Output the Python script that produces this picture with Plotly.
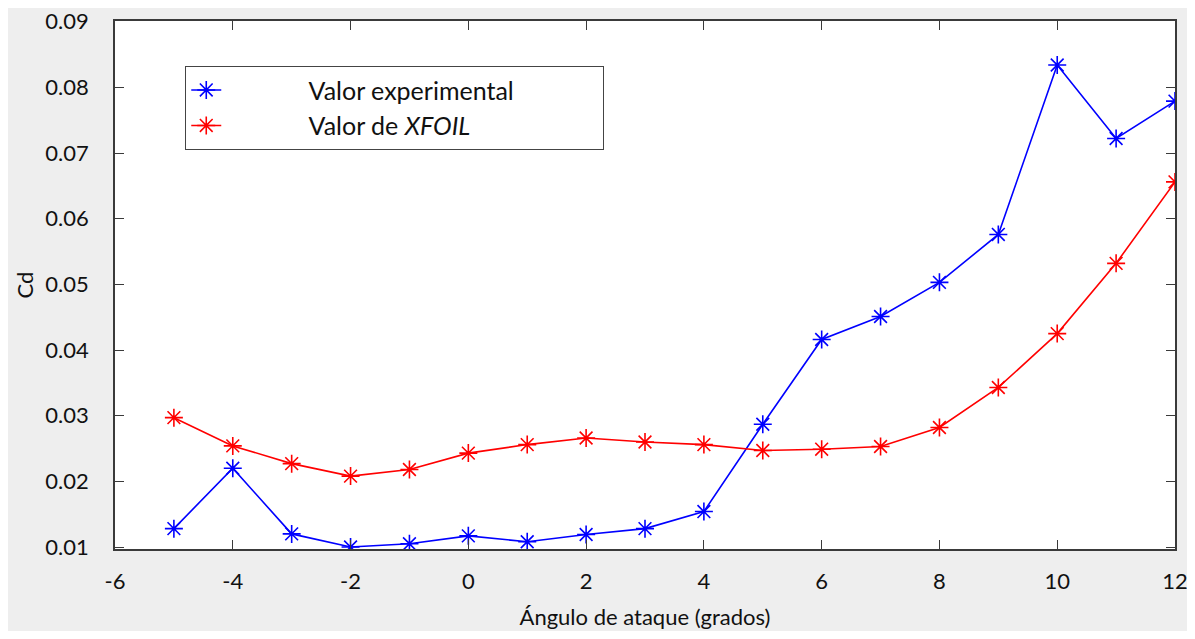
import plotly.graph_objects as go

angles = [-5, -4, -3, -2, -1, 0, 1, 2, 3, 4, 5, 6, 7, 8, 9, 10, 11, 12]
cd_experimental = [0.0128, 0.0220, 0.0120, 0.0100, 0.0105, 0.0117, 0.0108, 0.0119, 0.0128,
                   0.0154, 0.0287, 0.0416, 0.0451, 0.0503, 0.0576, 0.0834, 0.0722, 0.0779]
cd_xfoil = [0.0297, 0.0254, 0.0227, 0.0208, 0.0218, 0.0243, 0.0256, 0.0266, 0.0260,
            0.0256, 0.0247, 0.0249, 0.0253, 0.0282, 0.0343, 0.0425, 0.0532, 0.0656]
x_ticks = [-6, -4, -2, 0, 2, 4, 6, 8, 10, 12]
x_ticktext = ["-6", "-4", "-2", "0", "2", "4", "6", "8", "10", "12"]
y_ticks = [0.01, 0.02, 0.03, 0.04, 0.05, 0.06, 0.07, 0.08, 0.09]
y_ticktext = ["0.01", "0.02", "0.03", "0.04", "0.05", "0.06", "0.07", "0.08", "0.09"]

FONT = "Lato, 'Open Sans', sans-serif"
NB = "\u00a0"

fig = go.Figure()
fig.add_trace(go.Scatter(
    x=angles, y=cd_experimental, mode="lines+markers",
    name=NB * 13 + "Valor experimental" + NB * 13,
    line=dict(color="#0000ff", width=1.6),
    marker=dict(symbol="asterisk-open", size=15, color="#0000ff",
                line=dict(color="#0000ff", width=1.6)),
))
fig.add_trace(go.Scatter(
    x=angles, y=cd_xfoil, mode="lines+markers",
    name=NB * 13 + "Valor de <i>XFOIL</i>",
    line=dict(color="#ff0000", width=1.6),
    marker=dict(symbol="asterisk-open", size=15, color="#ff0000",
                line=dict(color="#ff0000", width=1.6)),
))

axis_common = dict(
    showgrid=False, zeroline=False, showline=True, linecolor="#3a3a3a", linewidth=1.5,
    mirror="ticks", ticks="inside", ticklen=9, tickwidth=1.3, tickcolor="#3a3a3a",
    tickfont=dict(family=FONT, size=22, color="#111111"),
    ticklabeloverflow="allow", automargin=False,
)

fig.update_layout(
    width=1187, height=623,
    margin=dict(l=107, r=20, t=13, b=82),
    paper_bgcolor="#eeeeee", plot_bgcolor="#ffffff",
    font=dict(family=FONT, size=22, color="#111111"),
    xaxis=dict(range=[-6, 12], tickvals=x_ticks, ticktext=x_ticktext, ticklabelstandoff=12,
               title=dict(text="Ángulo de ataque (grados)", standoff=16,
                          font=dict(family=FONT, size=22)),
               **axis_common),
    yaxis=dict(range=[0.0097, 0.0901], tickvals=y_ticks, ticktext=y_ticktext,
               ticklabelstandoff=20,
               title=dict(text="Cd", standoff=6, font=dict(family=FONT, size=22)),
               **axis_common),
    legend=dict(x=0.066, y=0.915, xanchor="left", yanchor="top",
                bgcolor="#ffffff", bordercolor="#444444", borderwidth=1.3,
                font=dict(family=FONT, size=25, color="#111111"),
                tracegroupgap=0),
    showlegend=True,
)

fig.write_html("out.html")
